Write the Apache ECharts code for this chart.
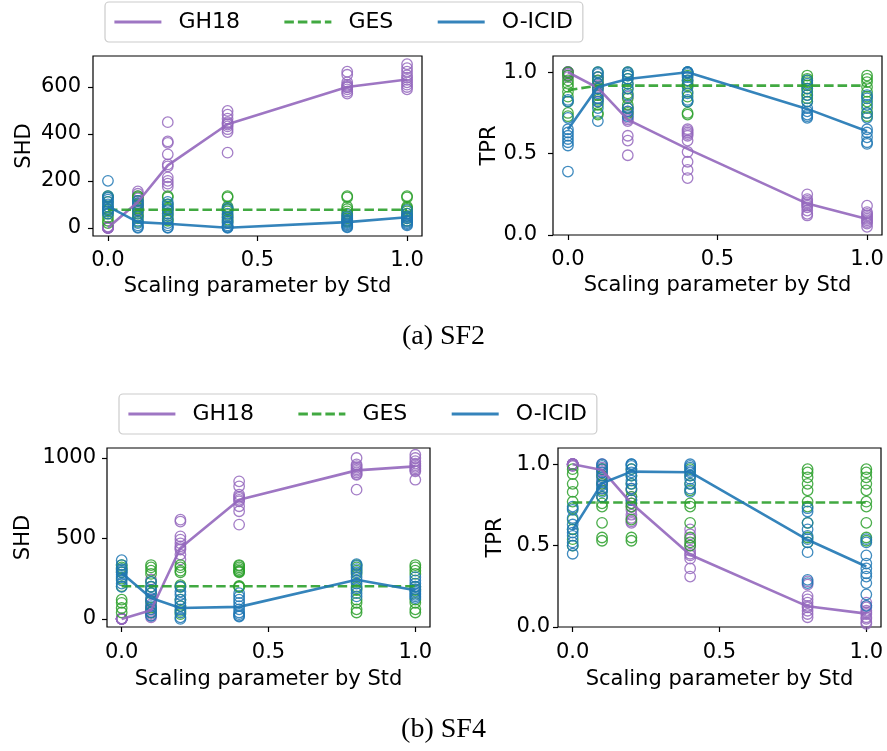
<!DOCTYPE html>
<html>
<head>
<meta charset="utf-8">
<script src="https://cdn.jsdelivr.net/npm/echarts@6/dist/echarts.min.js"></script>
<style>html,body{margin:0;padding:0;background:#fff;}#c{width:887px;height:751px;}</style>
</head>
<body>
<div id="c"></div>
<script>
// ---------- data ----------
const xs = [0, 0.1, 0.2, 0.4, 0.8, 1.0];
const xTicks = [0, 0.5, 1.0];
const methods = ['GH18', 'GES', 'O-ICID'];

// (a) SF2 — SHD
const sf2ShdGH18Line = [0, 110, 266, 441, 600, 632];
const sf2ShdGESLine = [77, 77, 77, 77, 77, 77];
const sf2ShdOICIDLine = [91, 24, 17, 0, 24, 45];
const sf2ShdGH18Pts = [
  [0, 0, 1, 2, 3, 0, 0, 5, 1, 0],
  [155, 145, 135, 125, 115, 105, 95, 90, 80, 70],
  [450, 368, 362, 313, 270, 262, 215, 200, 188, 175],
  [498, 482, 465, 450, 440, 432, 420, 408, 320, 445],
  [665, 652, 620, 605, 598, 590, 580, 572, 610, 600],
  [697, 680, 665, 650, 640, 630, 620, 610, 600, 590]
];
const sf2ShdGESPts = [
  [135, 130, 110, 90, 75, 60, 45, 30, 20, 80],
  [135, 130, 115, 100, 85, 75, 60, 50, 40, 25],
  [135, 130, 100, 85, 75, 60, 50, 35, 30, 80],
  [135, 130, 90, 80, 70, 55, 45, 35, 25, 80],
  [135, 130, 90, 80, 70, 60, 50, 40, 30, 25],
  [135, 130, 90, 85, 80, 70, 60, 50, 40, 30]
];
const sf2ShdOICIDPts = [
  [200, 135, 128, 120, 110, 100, 90, 80, 70, 60],
  [115, 105, 95, 75, 50, 30, 20, 10, 3, 0],
  [110, 100, 90, 75, 60, 40, 20, 10, 2, 0],
  [85, 75, 60, 45, 30, 20, 10, 5, 2, 0],
  [55, 45, 35, 30, 25, 20, 15, 10, 5, 2],
  [75, 60, 50, 45, 40, 30, 25, 20, 15, 10]
];

// (a) SF2 — TPR
const sf2TprGH18Line = [1.0, 0.904, 0.709, 0.529, 0.193, 0.098];
const sf2TprGESLine = [0.89, 0.918, 0.918, 0.918, 0.918, 0.918];
const sf2TprOICIDLine = [0.648, 0.91, 0.959, 1.0, 0.775, 0.638];
const sf2TprGH18Pts = [
  [1.0, 1.0, 1.0, 0.99, 0.98, 1.0, 1.0, 0.99, 0.97, 1.0],
  [0.97, 0.95, 0.93, 0.91, 0.9, 0.88, 0.86, 0.84, 0.82, 0.92],
  [0.85, 0.78, 0.74, 0.72, 0.71, 0.70, 0.61, 0.58, 0.49, 0.76],
  [0.65, 0.64, 0.62, 0.58, 0.51, 0.45, 0.40, 0.35, 0.63, 0.61],
  [0.25, 0.22, 0.2, 0.19, 0.18, 0.17, 0.15, 0.13, 0.12, 0.21],
  [0.18, 0.14, 0.12, 0.11, 0.10, 0.09, 0.08, 0.07, 0.05, 0.13]
];
const sf2TprGESPts = [
  [1.0, 0.98, 0.95, 0.93, 0.91, 0.88, 0.85, 0.82, 0.75, 0.73],
  [1.0, 0.97, 0.93, 0.9, 0.86, 0.83, 0.8, 0.75, 0.74, 0.95],
  [1.0, 0.98, 0.96, 0.93, 0.9, 0.87, 0.84, 0.8, 0.78, 0.75],
  [1.0, 0.98, 0.95, 0.92, 0.88, 0.85, 0.82, 0.75, 0.74, 0.93],
  [0.98, 0.96, 0.94, 0.92, 0.9, 0.88, 0.86, 0.84, 0.82, 0.95],
  [0.98, 0.96, 0.94, 0.91, 0.88, 0.85, 0.82, 0.78, 0.75, 0.73]
];
const sf2TprOICIDPts = [
  [0.83, 0.82, 0.72, 0.65, 0.63, 0.61, 0.59, 0.57, 0.55, 0.39],
  [1.0, 0.99, 0.97, 0.93, 0.9, 0.87, 0.84, 0.82, 0.78, 0.7],
  [1.0, 0.99, 0.98, 0.96, 0.93, 0.9, 0.86, 0.78, 0.76, 0.73],
  [1.0, 1.0, 1.0, 0.99, 0.97, 0.95, 0.91, 0.87, 0.83, 0.82],
  [0.95, 0.93, 0.9, 0.86, 0.82, 0.78, 0.76, 0.74, 0.73, 0.72],
  [0.86, 0.84, 0.8, 0.75, 0.72, 0.65, 0.63, 0.6, 0.57, 0.56]
];

// (b) SF4 — SHD
const sf4ShdGH18Line = [0, 54, 441, 741, 923, 948];
const sf4ShdGESLine = [203, 203, 203, 203, 203, 203];
const sf4ShdOICIDLine = [286, 130, 68, 75, 244, 178];
const sf4ShdGH18Pts = [
  [0, 0, 0, 2, 0, 1, 0, 0, 3, 0],
  [245, 180, 120, 90, 60, 50, 40, 30, 20, 10],
  [617, 605, 513, 493, 470, 451, 431, 400, 370, 440],
  [855, 824, 772, 752, 740, 731, 700, 669, 586, 760],
  [1000, 960, 950, 940, 930, 920, 910, 900, 895, 803],
  [1020, 1000, 980, 965, 955, 945, 935, 925, 917, 865]
];
const sf4ShdGESPts = [
  [335, 320, 310, 290, 250, 203, 120, 100, 68, 40],
  [335, 320, 300, 280, 230, 200, 160, 110, 70, 40],
  [335, 320, 300, 290, 210, 200, 120, 80, 50, 30],
  [335, 320, 300, 290, 205, 200, 330, 310, 295, 198],
  [335, 320, 300, 280, 200, 180, 120, 100, 60, 40],
  [335, 320, 300, 280, 200, 180, 120, 100, 60, 40]
];
const sf4ShdOICIDPts = [
  [365, 335, 310, 300, 290, 275, 260, 240, 220, 200],
  [230, 200, 180, 160, 130, 110, 80, 60, 40, 20],
  [200, 170, 150, 120, 100, 80, 60, 40, 10, 0],
  [160, 140, 120, 100, 80, 60, 40, 30, 20, 15],
  [340, 330, 310, 290, 260, 240, 220, 190, 160, 140],
  [260, 240, 220, 200, 185, 170, 160, 150, 140, 130]
];

// (b) SF4 — TPR
const sf4TprGH18Line = [1.0, 0.965, 0.76, 0.444, 0.127, 0.082];
const sf4TprGESLine = [0.765, 0.765, 0.765, 0.765, 0.765, 0.765];
const sf4TprOICIDLine = [0.597, 0.883, 0.955, 0.951, 0.536, 0.372];
const sf4TprGH18Pts = [
  [1.0, 1.0, 1.0, 1.0, 0.99, 1.0, 1.0, 1.0, 0.99, 1.0],
  [1.0, 0.98, 0.97, 0.96, 0.95, 0.93, 0.9, 0.88, 0.85, 0.8],
  [0.85, 0.8, 0.78, 0.76, 0.74, 0.72, 0.69, 0.67, 0.65, 0.64],
  [0.6, 0.57, 0.54, 0.5, 0.47, 0.45, 0.44, 0.42, 0.36, 0.31],
  [0.28, 0.26, 0.19, 0.17, 0.15, 0.13, 0.12, 0.1, 0.08, 0.06],
  [0.15, 0.13, 0.12, 0.1, 0.09, 0.08, 0.06, 0.05, 0.03, 0.02]
];
const sf4TprGESPts = [
  [0.97, 0.94, 0.88, 0.83, 0.77, 0.73, 0.66, 0.6, 0.54, 0.5],
  [0.97, 0.93, 0.88, 0.84, 0.8, 0.76, 0.74, 0.64, 0.55, 0.53],
  [0.97, 0.93, 0.88, 0.84, 0.8, 0.76, 0.74, 0.66, 0.55, 0.53],
  [0.97, 0.93, 0.88, 0.84, 0.76, 0.74, 0.64, 0.55, 0.52, 0.5],
  [0.97, 0.95, 0.92, 0.88, 0.84, 0.77, 0.74, 0.64, 0.55, 0.52],
  [0.97, 0.95, 0.92, 0.88, 0.84, 0.77, 0.74, 0.64, 0.55, 0.53]
];
const sf4TprOICIDPts = [
  [0.74, 0.72, 0.67, 0.63, 0.6, 0.58, 0.56, 0.52, 0.5, 0.45],
  [1.0, 0.99, 0.97, 0.95, 0.92, 0.89, 0.87, 0.85, 0.83, 0.8],
  [1.0, 1.0, 0.99, 0.97, 0.95, 0.93, 0.9, 0.88, 0.85, 0.78],
  [1.0, 0.99, 0.98, 0.96, 0.95, 0.93, 0.91, 0.88, 0.85, 0.83],
  [0.73, 0.71, 0.64, 0.6, 0.54, 0.52, 0.46, 0.29, 0.27, 0.56],
  [0.54, 0.52, 0.44, 0.39, 0.33, 0.31, 0.27, 0.2, 0.13, 0.36]
];

const shd2Ticks = [0, 200, 400, 600];
const shd4Ticks = [0, 500, 1000];
const tprTicks = [0, 0.5, 1.0];

// ---------- chart ----------
const colors = { 'GH18': '#9467bd', 'GES': '#2ca02c', 'O-ICID': '#1f77b4' };
const FONT = 'DejaVu Sans';
const FS = 21;

function pts(arr) { const out = []; arr.forEach((col, i) => col.forEach(v => out.push([xs[i], v]))); return out; }
function lineData(arr) { return arr.map((v, i) => [xs[i], v]); }

const panels = [
  { grid: { left: 93, top: 56, width: 329, height: 180 }, ymin: -35, ymax: 732, yTicks: shd2Ticks, yName: 'SHD', yGap: 58, yMargin: 12, xMargin: 14, xGap: 40, fmt: v => String(v),
    lines: [sf2ShdGH18Line, sf2ShdGESLine, sf2ShdOICIDLine], pts: [sf2ShdGH18Pts, sf2ShdGESPts, sf2ShdOICIDPts] },
  { grid: { left: 553, top: 56, width: 329, height: 179 }, ymin: 0, ymax: 1.1, yTicks: tprTicks, yName: 'TPR', yGap: 53, yMargin: 16, xMargin: 14, xGap: 40, fmt: v => v.toFixed(1),
    lines: [sf2TprGH18Line, sf2TprGESLine, sf2TprOICIDLine], pts: [sf2TprGH18Pts, sf2TprGESPts, sf2TprOICIDPts] },
  { grid: { left: 107, top: 448, width: 323, height: 179 }, ymin: -50, ymax: 1062, yTicks: shd4Ticks, yName: 'SHD', yGap: 73, yMargin: 11, xMargin: 15, xGap: 42, fmt: v => String(v),
    lines: [sf4ShdGH18Line, sf4ShdGESLine, sf4ShdOICIDLine], pts: [sf4ShdGH18Pts, sf4ShdGESPts, sf4ShdOICIDPts] },
  { grid: { left: 558, top: 448, width: 323, height: 179 }, ymin: 0, ymax: 1.1, yTicks: tprTicks, yName: 'TPR', yGap: 52, yMargin: 8, xMargin: 15, xGap: 42, fmt: v => v.toFixed(1),
    lines: [sf4TprGH18Line, sf4TprGESLine, sf4TprOICIDLine], pts: [sf4TprGH18Pts, sf4TprGESPts, sf4TprOICIDPts] }
];

const grids = [], xAxes = [], yAxes = [], series = [];
panels.forEach((p, g) => {
  grids.push(Object.assign({ show: true, borderColor: '#000', borderWidth: 1.2, backgroundColor: 'transparent', containLabel: false }, p.grid));
  xAxes.push({
    type: 'value', gridIndex: g, min: -0.05, max: 1.05,
    name: 'Scaling parameter by Std', nameLocation: 'middle', nameGap: p.xGap,
    nameTextStyle: { fontFamily: FONT, fontSize: FS, color: '#000' },
    axisLine: { show: false, onZero: false },
    splitLine: { show: false },
    axisTick: { show: true, length: 5, customValues: xTicks, lineStyle: { color: '#000', width: 1.2 } },
    axisLabel: { customValues: xTicks, formatter: v => Number(v).toFixed(1), margin: p.xMargin, fontFamily: FONT, fontSize: FS, color: '#000' }
  });
  yAxes.push({
    type: 'value', gridIndex: g, min: p.ymin, max: p.ymax,
    name: p.yName, nameLocation: 'middle', nameGap: p.yGap, nameRotate: 90,
    nameTextStyle: { fontFamily: FONT, fontSize: FS, color: '#000' },
    axisLine: { show: false, onZero: false },
    splitLine: { show: false },
    axisTick: { show: true, length: 5, customValues: p.yTicks, lineStyle: { color: '#000', width: 1.2 } },
    axisLabel: { customValues: p.yTicks, formatter: v => p.fmt(Number(v)), margin: p.yMargin, fontFamily: FONT, fontSize: FS, color: '#000' }
  });
  methods.forEach((m, k) => {
    series.push({
      type: 'scatter', name: m + ' runs', xAxisIndex: g, yAxisIndex: g,
      data: pts(p.pts[k]), symbol: 'circle', symbolSize: 10.5,
      itemStyle: { color: 'rgba(0,0,0,0)', borderColor: colors[m], borderWidth: 1.3, opacity: 0.85 },
      z: 2, silent: true
    });
  });
  methods.forEach((m, k) => {
    series.push({
      type: 'line', name: m, xAxisIndex: g, yAxisIndex: g,
      data: lineData(p.lines[k]), symbol: 'none',
      lineStyle: { color: colors[m], width: 2.6, type: m === 'GES' ? [9.5, 4] : 'solid', opacity: 0.9 },
      itemStyle: { color: colors[m] },
      z: 3, silent: true
    });
  });
});

function legendAt(left, top) {
  return {
    data: methods, left: left, top: top, orient: 'horizontal',
    padding: [9, 10, 9, 8], itemWidth: 47, itemHeight: 20, itemGap: 43,
    borderColor: '#cccccc', borderWidth: 1.2, borderRadius: 4, backgroundColor: '#fff',
    itemStyle: { color: 'rgba(0,0,0,0)', borderColor: 'rgba(0,0,0,0)', borderWidth: 0, opacity: 0 },
    lineStyle: { width: 2.8 },
    textStyle: { fontFamily: FONT, fontSize: 22, color: '#000', padding: [0, 0, 0, 12] },
    selectedMode: false
  };
}

const option = {
  animation: false,
  backgroundColor: '#fff',
  grid: grids, xAxis: xAxes, yAxis: yAxes, series: series,
  legend: [legendAt(105, 2), legendAt(119, 394)],
  graphic: [
    { type: 'text', left: 'center', top: 323, style: { text: '(a) SF2', font: '28px "Liberation Serif"', fill: '#000' } },
    { type: 'text', left: 'center', top: 716, style: { text: '(b) SF4', font: '28px "Liberation Serif"', fill: '#000' } }
  ]
};

const chart = echarts.init(document.getElementById('c'), null, { renderer: 'canvas' });
chart.setOption(option);
</script>
</body>
</html>
